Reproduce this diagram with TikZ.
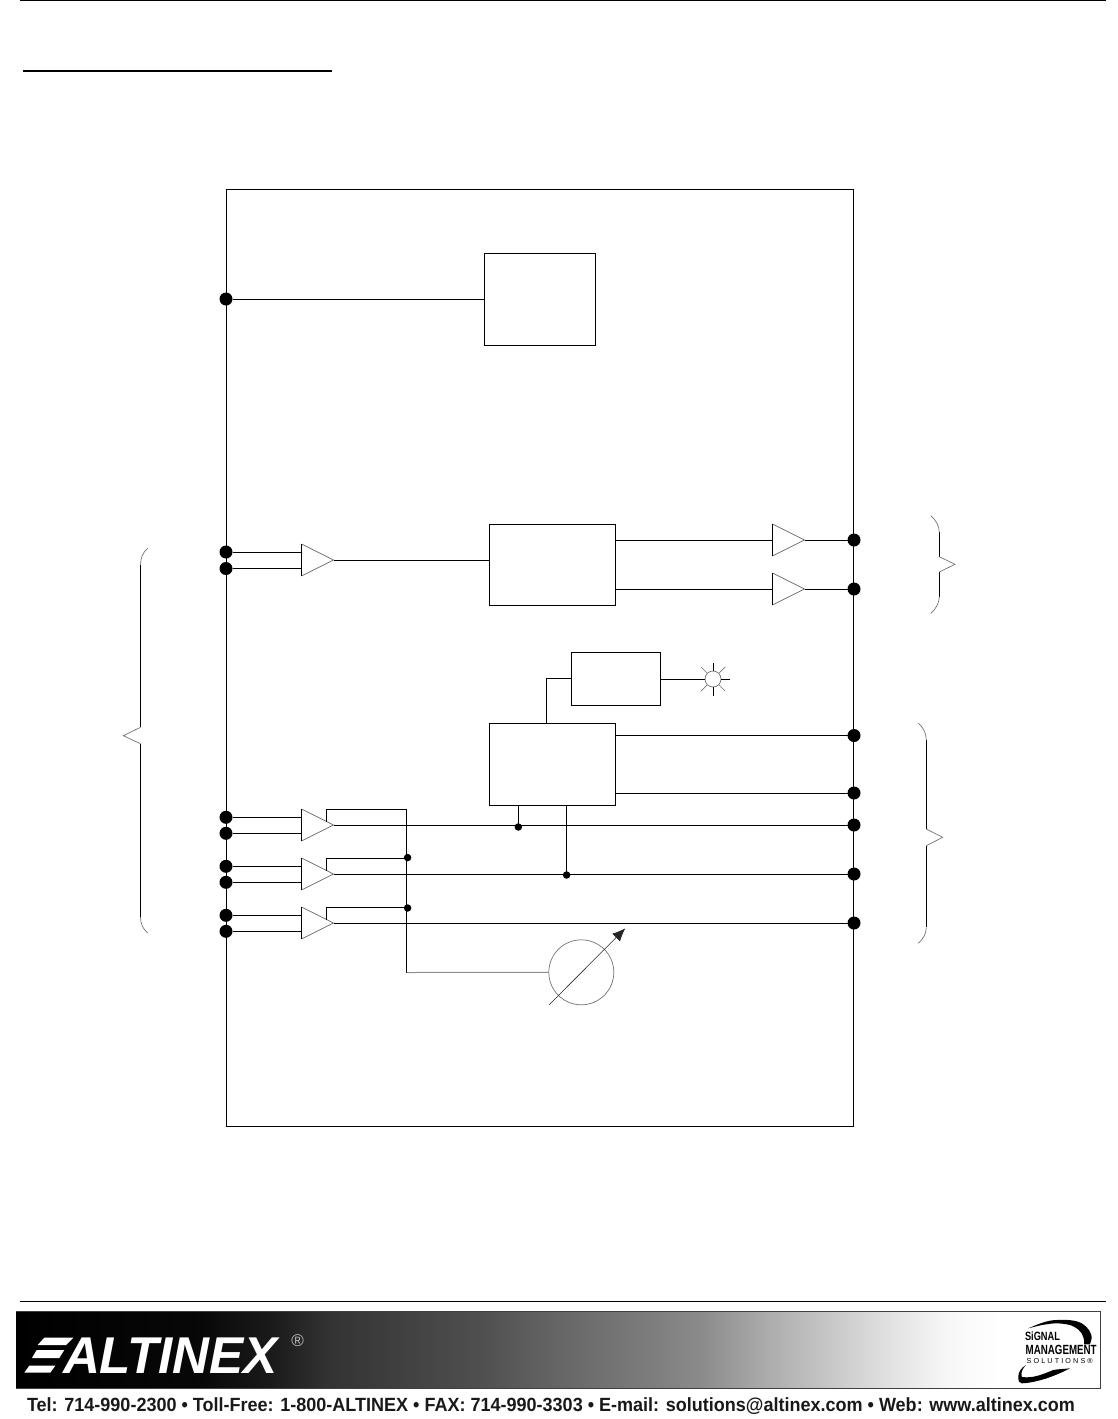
\documentclass[tikz,border=0pt]{standalone}
\usepackage{graphicx}
\usepackage{fontspec}
\setmainfont{Liberation Sans}
\usetikzlibrary{arrows.meta,calc}
% TikZ maps the 25bp..75bp part of a horizontal shading onto the path
\pgfdeclarehorizontalshading{bannershade}{100bp}{
  color(0bp)=(black); color(25bp)=(black); color(33.5bp)=(black!97); color(36.7bp)=(black!90); color(39.5bp)=(black!80);
  color(46.4bp)=(black!69); color(50.1bp)=(black!60); color(53.8bp)=(black!52); color(56.5bp)=(black!46);
  color(59.3bp)=(black!34); color(62.5bp)=(black!22); color(65.75bp)=(black!10); color(68bp)=(black!3);
  color(70.4bp)=(white); color(100bp)=(white)}
\tikzset{
  wire/.style={draw=black,line width=1pt},
  faint/.style={draw=black!55,line width=.7pt},
  blockbox/.style={rectangle,draw=black,line width=1pt,inner sep=0pt,outer sep=0pt},
  bufcell/.style={rectangle,draw=none,inner sep=0pt,outer sep=0pt,minimum width=32pt,minimum height=32pt},
  pin/.style={circle,fill=black,draw=none,inner sep=0pt,outer sep=0pt,minimum size=13pt},
  joint/.style={circle,fill=black,draw=none,inner sep=0pt,outer sep=0pt,minimum size=7.5pt},
  plain/.style={inner sep=0pt,outer sep=0pt}
}
% name, centre-left x, centre y
\newcommand{\buffercell}[3]{%
  \node[bufcell,anchor=west] (#1) at (#2,#3) {};
  \draw[faint] (#1.north west) -- (#1.east) -- (#1.south west);
  \draw[wire] (#1.north west) -- (#1.south west);
}
\begin{document}
\begin{tikzpicture}[x=1pt,y=-1pt]
\useasboundingbox (0,0) rectangle (1118,1419);
% page furniture
\draw[line width=1.2pt] (20,.6) -- (1106,.6);
\draw[line width=2pt] (23,71) -- (332,71);
\draw[line width=1pt] (20,1301.3) -- (1106,1301.3);

% enclosure and blocks
\node[blockbox,minimum width=627pt,minimum height=937pt] (frame) at (540,657.5) {};
\node[blockbox,minimum width=110.5pt,minimum height=92pt] (boxa) at (540.2,299) {};
\node[blockbox,minimum width=126pt,minimum height=81pt] (boxb) at (552.3,564.5) {};
\node[blockbox,minimum width=89pt,minimum height=53pt] (boxc) at (616,678.5) {};
\node[blockbox,minimum width=126pt,minimum height=82pt] (boxd) at (552.3,764) {};

% buffers
\buffercell{bin}{301.5}{560}
\buffercell{bouta}{772.5}{540}
\buffercell{boutb}{772.5}{589}
\buffercell{bla}{301.5}{825}
\buffercell{blb}{301.5}{874}
\buffercell{blc}{301.5}{923}

% pins
\node[pin] (pa) at (226,299) {};
\node[pin] (pin1) at (226,552) {};
\node[pin] (pin2) at (226,568.5) {};
\node[pin] (pla1) at (226,817.3) {};
\node[pin] (pla2) at (226,833.3) {};
\node[pin] (plb1) at (226,866.3) {};
\node[pin] (plb2) at (226,882.3) {};
\node[pin] (plc1) at (226,915.3) {};
\node[pin] (plc2) at (226,931.3) {};
\node[pin] (por1) at (854,540) {};
\node[pin] (por2) at (854,589) {};
\node[pin] (por3) at (854,735.5) {};
\node[pin] (por4) at (854,793) {};
\node[pin] (por5) at (854,825) {};
\node[pin] (por6) at (854,874) {};
\node[pin] (por7) at (854,923) {};

% LED and meter
\node[circle,draw=black!55,line width=.7pt,inner sep=0pt,outer sep=0pt,minimum size=16pt] (led) at (713,679) {};
\node[circle,draw=black!55,line width=.7pt,inner sep=0pt,outer sep=0pt,minimum size=65pt] (meter) at (581.3,972.3) {};

% junction points
\coordinate (busN) at (406.5,809.3);
\coordinate (busS) at (406.5,972.5);
\node[joint] (jb) at (407.6,857.6) {};
\node[joint] (jc) at (407.6,908) {};
\node[joint] (jd) at (518.3,827) {};
\node[joint] (je) at (566.6,875) {};
\coordinate (sa) at (326.3,821.5);
\coordinate (sb) at (326.3,870.5);
\coordinate (sc) at (326.3,919.5);

% connectors
\draw[wire] (pa) -- (pa -| boxa.west);
\draw[wire] (pin1) -- (pin1 -| bin.west);
\draw[wire] (pin2) -- (pin2 -| bin.west);
\draw[wire] (bin.east) -- (bin.east -| boxb.west);
\draw[wire] (bouta.west -| boxb.east) -- (bouta.west);
\draw[wire] (boutb.west -| boxb.east) -- (boutb.west);
\draw[wire] (bouta.east) -- (por1);
\draw[wire] (boutb.east) -- (por2);
\draw[wire] (boxc.west) -- (546.5,678.5) -- (546.5,723);
\draw[wire] (led.west -| boxc.east) -- (led.west);
\draw[wire] (por3 -| boxd.east) -- (por3);
\draw[wire] (por4 -| boxd.east) -- (por4);
\draw[wire] (pla1) -- (pla1 -| bla.west);
\draw[wire] (pla2) -- (pla2 -| bla.west);
\draw[wire] (plb1) -- (plb1 -| blb.west);
\draw[wire] (plb2) -- (plb2 -| blb.west);
\draw[wire] (plc1) -- (plc1 -| blc.west);
\draw[wire] (plc2) -- (plc2 -| blc.west);
\draw[wire] (bla.east) -- (por5);
\draw[wire] (blb.east) -- (por6);
\draw[wire] (blc.east) -- (por7);
\draw[wire] (jd |- boxd.south) -- (518.3,825);
\draw[wire] (je |- boxd.south) -- (566.6,874);
\draw[wire] (sa) -- (326.3,809.3) -- (busN) -- (busS);
\draw[wire] (sb) -- (326.3,858.3) -- (406.5,858.3);
\draw[wire] (sc) -- (326.3,907.3) -- (406.5,907.3);
\draw[draw=black!45,line width=1pt] (busS) -- (meter.west);
\coordinate (arrowtail) at (549,1005);
\coordinate (arrowtip) at (625.3,928.3);
\draw[draw=black!85,line width=.6pt,-{Latex[length=13pt,width=11pt]}] (arrowtail) -- (arrowtip);

% LED rays
\foreach \a in {0,90,180,270} \draw[line width=.9pt] ($(led.center)+(\a:8)$) -- ($(led.center)+(\a:16.5)$);
\foreach \a in {45,135,225,315} \draw[faint] ($(led.center)+(\a:8.5)$) -- ($(led.center)+(\a:17)$);

% braces
\draw[wire] (140.5,564.7) -- (140.5,727.3);
\draw[wire] (140.5,743.7) -- (140.5,917);
\draw[faint] (147.7,548.3) .. controls (143,552) and (140.5,558) .. (140.5,564.7);
\draw[faint] (140.5,727.3) -- (123.3,735.7) -- (140.5,743.7);
\draw[faint] (140.5,917) .. controls (140.5,924) and (143,929) .. (147.7,933);

\draw[wire] (939.3,532.3) -- (939.3,556.7);
\draw[wire] (939.3,572) -- (939.3,596.7);
\draw[faint] (930.7,515.7) .. controls (936,520) and (939.3,526) .. (939.3,532.3);
\draw[faint] (939.3,556.7) -- (955,564.3) -- (939.3,572);
\draw[faint] (939.3,596.7) .. controls (939.3,603) and (936,609) .. (930.7,613.3);

\draw[wire] (926.3,740) -- (926.3,829);
\draw[wire] (926.3,845.7) -- (926.3,927.3);
\draw[faint] (918.3,723.3) .. controls (923,727) and (926.3,733) .. (926.3,740);
\draw[faint] (926.3,829) -- (942.7,837.3) -- (926.3,845.7);
\draw[faint] (926.3,927.3) .. controls (926.3,934) and (923,939) .. (918.3,943.3);

% banner
\shade[shading=bannershade] (16,1311.7) rectangle (1100,1388.3);
\draw[draw=black!75,line width=1pt] (16,1311.7) -- (1100,1311.7) -- (1100,1388.3) -- (16,1388.3);
\fill[white] (44.3,1337.7) -- (73.3,1337.7) -- (66,1345) -- (37.7,1345) -- cycle;
\fill[white] (36.7,1350) -- (64.3,1350) -- (59.3,1358) -- (32,1358) -- cycle;
\fill[white] (29.3,1365.7) -- (55.3,1365.7) -- (50.3,1372.7) -- (24.3,1372.7) -- cycle;
\node[plain,anchor=south west,text=white] (logo) at (63,1373.3) {\resizebox{215pt}{35.6pt}{\bfseries\itshape ALTINEX}};
\node[plain,text=black!25,font=\fontsize{17}{17}\selectfont] (reg) at (297.7,1341) {®};
\node[plain,anchor=south west,text=black] (sig) at (1025,1341) {\resizebox{35pt}{8.7pt}{\bfseries SiGNAL}};
\node[plain,anchor=south west,text=black] (mgt) at (1025.7,1354.3) {\resizebox{71pt}{9.3pt}{\bfseries MANAGEMENT}};
\node[plain,anchor=south west,text=black] (sol) at (1026.7,1363.5) {\resizebox{66pt}{!}{\addfontfeature{LetterSpace=30}SOLUTIONS®}};
\fill[black] (1028.3,1328.3) .. controls (1038,1324) and (1048,1320) .. (1056.7,1320)
  .. controls (1066,1319.5) and (1076,1320) .. (1081.7,1323.3)
  .. controls (1089,1328) and (1092,1334) .. (1091.7,1338.3) -- (1090,1344.3) -- (1084,1344.3)
  .. controls (1084.5,1339) and (1083,1336) .. (1081.7,1333.3)
  .. controls (1078,1328) and (1072,1325) .. (1066.7,1324.3)
  .. controls (1060,1323) and (1053,1323) .. (1046.7,1324.3)
  .. controls (1040,1325) and (1034,1327) .. cycle;
\fill[black] (1026,1365) .. controls (1021,1368) and (1018.3,1372) .. (1018.3,1376.7)
  .. controls (1018.3,1381) and (1019,1383.3) .. (1021.7,1383.3)
  .. controls (1030,1383) and (1038,1381) .. (1046.7,1378.3)
  .. controls (1056,1375) and (1063,1372) .. (1070,1368.3)
  .. controls (1064,1369) and (1058,1369) .. (1053.3,1370)
  .. controls (1046,1373) and (1040,1375.5) .. (1033.3,1376.7)
  .. controls (1028,1377.5) and (1024,1377.5) .. (1021.7,1376.7)
  .. controls (1020.5,1372) and (1023,1368) .. cycle;

% contact line
\node[plain,anchor=base west,text=black!90] (contact) at (27,1411.3) {\scalebox{1}[1.06]{\resizebox{1048pt}{!}{\bfseries Tel: 714-990-2300 • Toll-Free: 1-800-ALTINEX • FAX: 714-990-3303 • E-mail: solutions@altinex.com • Web: www.altinex.com}}};
\end{tikzpicture}
\end{document}
